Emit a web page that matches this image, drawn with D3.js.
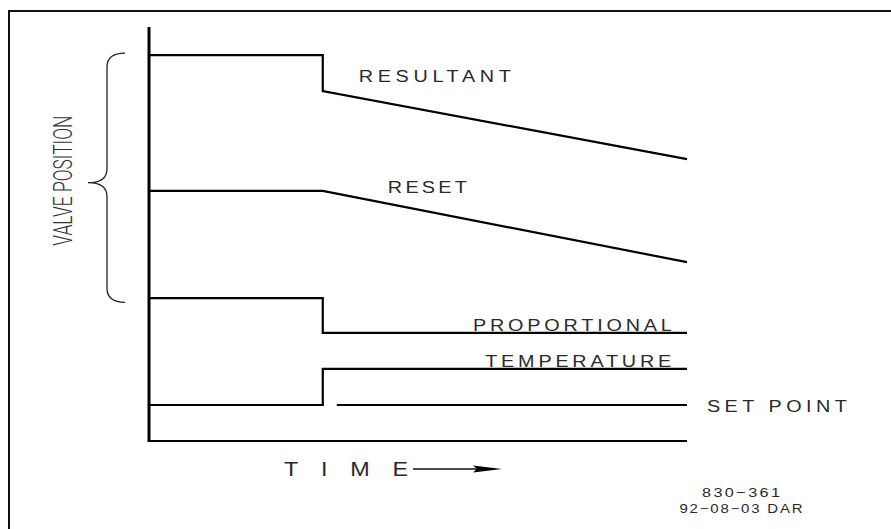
<!DOCTYPE html>
<html>
<head>
<meta charset="utf-8">
<script src="https://cdn.jsdelivr.net/npm/d3@7"></script>
<style>
  body { margin: 0; background: #fff; }
  svg { display: block; }
  .lbl { font-family: "Liberation Sans", Arial, sans-serif; fill: #2a2a2a; }
</style>
</head>
<body>
<div class="valve_wrapper"></div>
<script>
// time points (0 = start, 1 = end of trace), the step happens at 0.323
const times = [0, 0.323, 0.323, 1]
const setPointTimes = [0.349, 1]

// valve position values (0..100) for each trace
const resultant    = [93.2, 93.2, 84.5, 68.1]
const reset        = [60.4, 60.4, 60.4, 43.2]
const proportional = [34.5, 34.5, 26.1, 26.1]
const temperature  = [8.7, 8.7, 17.4, 17.4]
const setPoint     = [8.7, 8.7]
const baseline     = [0, 0]

const traceNames = ["RESULTANT", "RESET", "PROPORTIONAL", "TEMPERATURE", "SET POINT"]
const footer = ["830\u2212361", "92\u221208\u221203 DAR"]

function drawValve() {

  const dimensions = {
    width: 891,
    height: 529,
  }

  const wrapper = d3.select(".valve_wrapper")
    .append("svg")
      .attr("width", dimensions.width)
      .attr("height", dimensions.height)

  // scales
  const xScale = d3.scaleLinear()
    .domain([0, 1])
    .range([149, 687])

  const yScale = d3.scaleLinear()
    .domain([0, 100])
    .range([441, 27])

  // widened text, like the plotter font of the drawing
  const wide = 1.2
  function cadText(sel, x, y, size, len) {
    return sel
      .attr("class", "lbl")
      .attr("transform", `translate(${x},${y}) scale(${wide},1)`)
      .attr("font-size", size)
      .attr("textLength", len / wide)
      .attr("lengthAdjust", "spacing")
  }

  // frame (only top and left edges show)
  wrapper.append("path")
    .attr("d", `M9,${dimensions.height} V11 H${dimensions.width}`)
    .attr("fill", "none")
    .attr("stroke", "#111")
    .attr("stroke-width", 2)

  const line = d3.line()
    .x(d => xScale(d[0]))
    .y(d => yScale(d[1]))

  const series = [
    d3.zip(times, resultant),
    d3.zip(times, reset),
    d3.zip(times, proportional),
    d3.zip(times, temperature),
    d3.zip(setPointTimes, setPoint),
    d3.zip([0, 1], baseline),
  ]

  wrapper.append("g")
    .selectAll("path")
    .data(series)
    .join("path")
      .attr("d", line)
      .attr("fill", "none")
      .attr("stroke", "#000")
      .attr("stroke-width", 2.2)
      .attr("stroke-linejoin", "miter")

  // vertical axis
  wrapper.append("line")
    .attr("x1", xScale(0))
    .attr("x2", xScale(0))
    .attr("y1", yScale(100))
    .attr("y2", yScale(0) + 1)
    .attr("stroke", "#000")
    .attr("stroke-width", 3)

  // trace labels: [time, value, text length]
  const labelPos = [
    [0.390, 86.7, 152],
    [0.444, 59.9, 79],
    [0.602, 26.6, 199],
    [0.625, 17.9, 186],
    [1.037, 7.0, 140],
  ]

  traceNames.forEach((name, i) => {
    cadText(wrapper.append("text"),
      xScale(labelPos[i][0]), yScale(labelPos[i][1]), 16.5, labelPos[i][2])
      .text(name)
  })

  // brace for valve position
  const bTop = yScale(93.7), bBot = yScale(33.5), bMid = yScale(62.4)
  const bx = 107, bEnd = 125, bTip = 88
  wrapper.append("path")
    .attr("d", `M${bEnd},${bTop} Q${bx},${bTop} ${bx},${bTop + 14}
      V${bMid - 14} Q${bx},${bMid} ${bTip},${bMid}
      Q${bx},${bMid} ${bx},${bMid + 14}
      V${bBot - 14} Q${bx},${bBot} ${bEnd},${bBot}`)
    .attr("fill", "none")
    .attr("stroke", "#222")
    .attr("stroke-width", 1.3)

  wrapper.append("text")
    .attr("transform", `translate(72,${bMid - 2}) rotate(-90)`)
    .attr("text-anchor", "middle")
    .attr("font-family", "Roboto, 'Liberation Sans', sans-serif")
    .attr("font-weight", 300)
    .attr("fill", "#333")
    .attr("font-size", 26)
    .attr("textLength", 130)
    .attr("lengthAdjust", "spacingAndGlyphs")
    .text("VALVE POSITION")

  // time label with arrow
  cadText(wrapper.append("text"), 284, 476, 19.5, 124).text("TIME")

  wrapper.append("line")
    .attr("x1", 413).attr("x2", 478)
    .attr("y1", 469).attr("y2", 469)
    .attr("stroke", "#111")
    .attr("stroke-width", 1.3)

  wrapper.append("path")
    .attr("d", "M473,465.5 L502,469 L473,472.5 L477,469 Z")
    .attr("fill", "#000")

  // drawing number
  footer.forEach((t, i) => {
    const len = i === 0 ? 78 : 123
    cadText(wrapper.append("text"), 741 - len / 2, i === 0 ? 497 : 513,
      i === 0 ? 13.5 : 12.5, len)
      .text(t)
  })
}

drawValve()
</script>
</body>
</html>
